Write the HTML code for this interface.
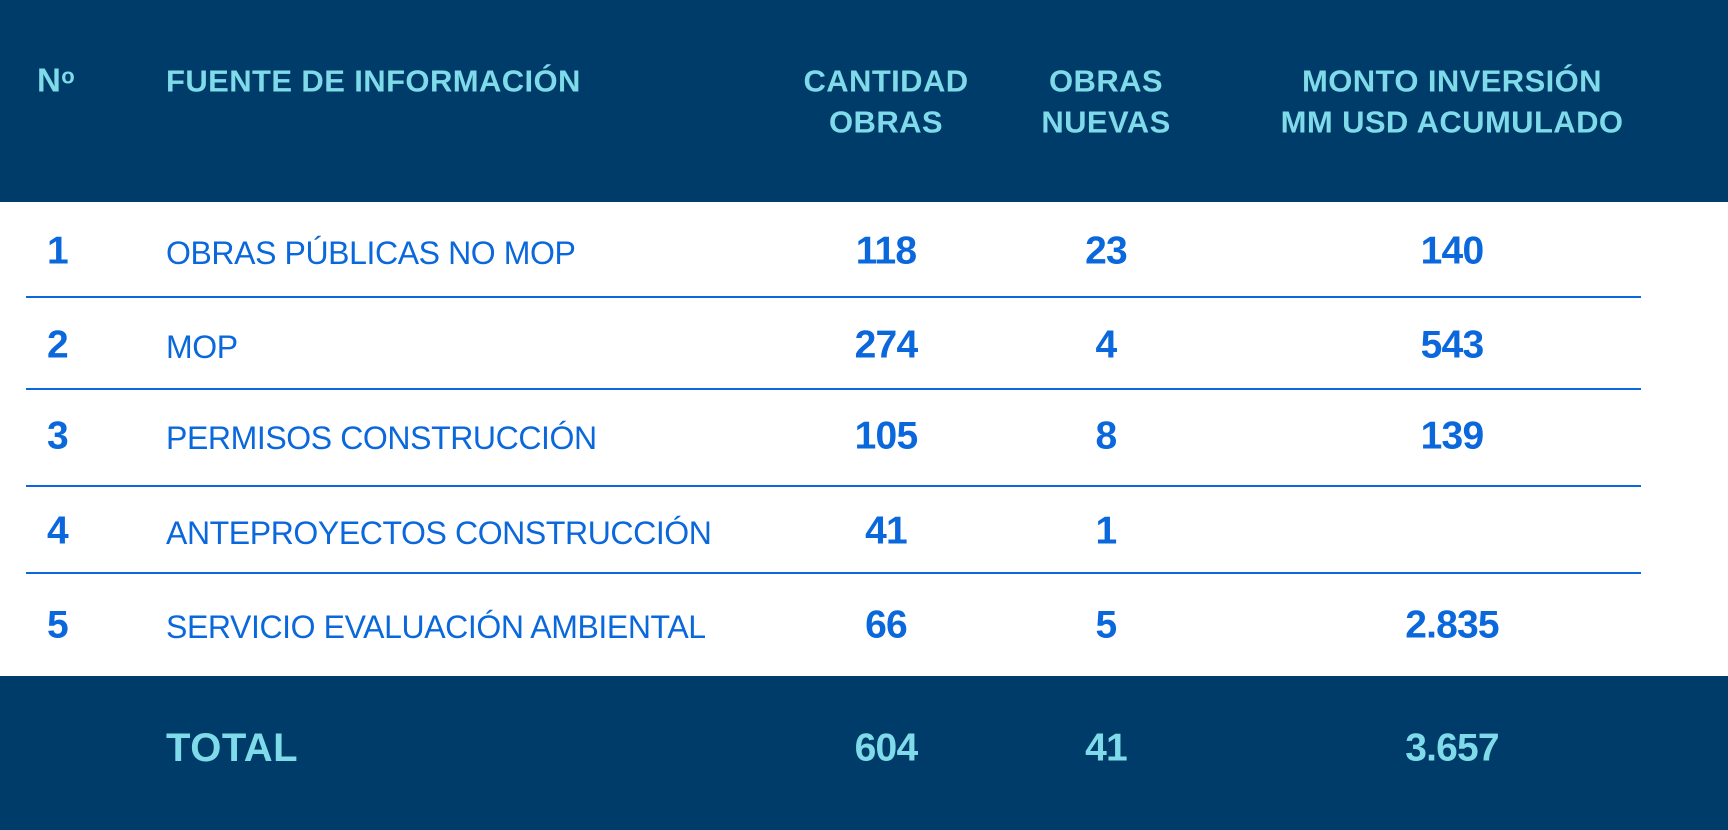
<!DOCTYPE html>
<html><head><meta charset="utf-8"><style>
*{margin:0;padding:0;box-sizing:border-box}
body{width:1728px;height:830px;background:#fff;position:relative;overflow:hidden;font-family:"Liberation Sans",sans-serif}
.hd{position:absolute;left:0;top:0;width:1728px;height:202px;background:#003c6a}
.ft{position:absolute;left:0;top:676px;width:1728px;height:154px;background:#003c6a}
.t{position:absolute;white-space:nowrap;transform:translate(-50%,-50%);line-height:1}
.l{position:absolute;white-space:nowrap;transform:translateY(-50%);line-height:1}
.h{color:#7fdbe9;font-weight:bold;font-size:31px;letter-spacing:0.4px}
.b{color:#0a68dc}
.lab{font-size:32px;letter-spacing:-0.4px}
.num{font-weight:bold;font-size:39px;letter-spacing:-0.8px}
.line{position:absolute;left:26px;width:1615px;height:2px;background:#0a68dc}
</style></head><body>
<div class="hd"></div><div class="ft"></div>
<div class="l h" style="left:37px;top:80px;font-size:33px">N<span style="font-size:22px;vertical-align:8px">o</span></div>
<div class="l h" style="left:166px;top:81px">FUENTE DE INFORMACIÓN</div>
<div class="t h" style="left:886px;top:81px">CANTIDAD</div>
<div class="t h" style="left:886px;top:122px">OBRAS</div>
<div class="t h" style="left:1106px;top:81px">OBRAS</div>
<div class="t h" style="left:1106px;top:122px">NUEVAS</div>
<div class="t h" style="left:1452px;top:81px">MONTO INVERSIÓN</div>
<div class="t h" style="left:1452px;top:122px">MM USD ACUMULADO</div>

<div class="line" style="top:296px"></div>
<div class="line" style="top:388px"></div>
<div class="line" style="top:485px"></div>
<div class="line" style="top:572px"></div>

<div class="l b num" style="left:47px;top:251px">1</div>
<div class="l b lab" style="left:166px;top:253px">OBRAS PÚBLICAS NO MOP</div>
<div class="t b num" style="left:886px;top:251px">118</div>
<div class="t b num" style="left:1106px;top:251px">23</div>
<div class="t b num" style="left:1452px;top:251px">140</div>

<div class="l b num" style="left:47px;top:345px">2</div>
<div class="l b lab" style="left:166px;top:347px">MOP</div>
<div class="t b num" style="left:886px;top:345px">274</div>
<div class="t b num" style="left:1106px;top:345px">4</div>
<div class="t b num" style="left:1452px;top:345px">543</div>

<div class="l b num" style="left:47px;top:436px">3</div>
<div class="l b lab" style="left:166px;top:438px">PERMISOS CONSTRUCCIÓN</div>
<div class="t b num" style="left:886px;top:436px">105</div>
<div class="t b num" style="left:1106px;top:436px">8</div>
<div class="t b num" style="left:1452px;top:436px">139</div>

<div class="l b num" style="left:47px;top:531px">4</div>
<div class="l b lab" style="left:166px;top:533px">ANTEPROYECTOS CONSTRUCCIÓN</div>
<div class="t b num" style="left:886px;top:531px">41</div>
<div class="t b num" style="left:1106px;top:531px">1</div>

<div class="l b num" style="left:47px;top:625px">5</div>
<div class="l b lab" style="left:166px;top:627px">SERVICIO EVALUACIÓN AMBIENTAL</div>
<div class="t b num" style="left:886px;top:625px">66</div>
<div class="t b num" style="left:1106px;top:625px">5</div>
<div class="t b num" style="left:1452px;top:625px">2.835</div>

<div class="l h num" style="left:166px;top:748px;font-size:40px;letter-spacing:0.5px">TOTAL</div>
<div class="t h num" style="left:886px;top:748px">604</div>
<div class="t h num" style="left:1106px;top:748px">41</div>
<div class="t h num" style="left:1452px;top:748px">3.657</div>
</body></html>
